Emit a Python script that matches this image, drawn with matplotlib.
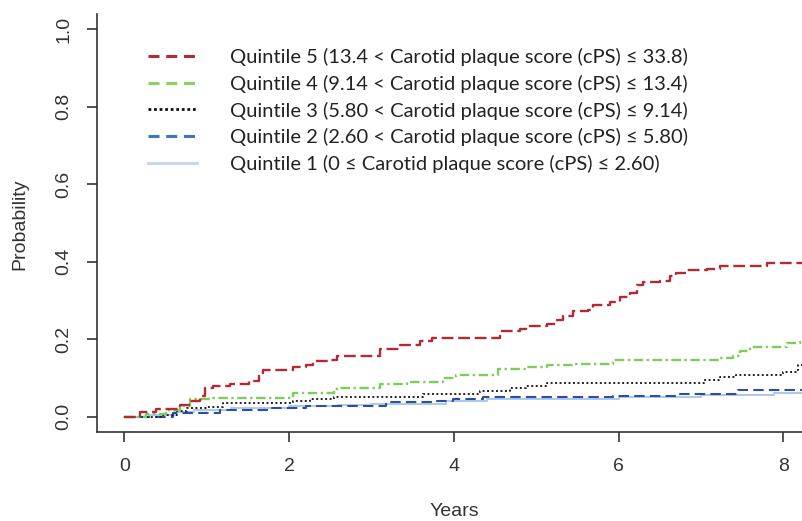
import matplotlib.pyplot as plt
from matplotlib.lines import Line2D

# step points (time in years, cumulative probability)
q5_t = [0, 0.19, 0.39, 0.68, 0.80, 0.92, 0.98, 1.08, 1.28, 1.52, 1.63, 1.69, 2.05, 2.21,
        2.29, 2.50, 2.58, 3.10, 3.35, 3.59, 3.73, 4.56, 4.80, 4.88, 5.13, 5.25, 5.33,
        5.45, 5.63, 5.69, 5.89, 6.02, 6.14, 6.22, 6.30, 6.50, 6.62, 6.70, 6.83, 7.07,
        7.23, 7.80, 8.30]
q5_p = [0, 0.011, 0.020, 0.031, 0.039, 0.054, 0.074, 0.078, 0.085, 0.091, 0.113, 0.119,
        0.128, 0.132, 0.143, 0.147, 0.156, 0.175, 0.186, 0.194, 0.203, 0.220, 0.225,
        0.235, 0.240, 0.250, 0.259, 0.272, 0.274, 0.289, 0.295, 0.309, 0.319, 0.341,
        0.347, 0.351, 0.364, 0.371, 0.378, 0.381, 0.390, 0.397, 0.397]

q4_t = [0, 0.27, 0.51, 0.68, 0.80, 1.08, 2.05, 2.54, 2.62, 3.10, 3.43, 3.87, 4.03, 4.54,
        4.88, 5.13, 5.45, 5.93, 7.23, 7.39, 7.47, 7.59, 8.04, 8.20, 8.30]
q4_p = [0, 0.007, 0.018, 0.028, 0.044, 0.048, 0.061, 0.070, 0.074, 0.083, 0.089, 0.100,
        0.108, 0.123, 0.128, 0.134, 0.136, 0.147, 0.151, 0.156, 0.169, 0.180, 0.190,
        0.197, 0.197]

q3_t = [0, 0.47, 0.64, 0.76, 1.00, 1.20, 2.05, 2.25, 2.54, 3.63, 4.32, 4.68, 4.88, 5.13,
        7.03, 7.23, 7.43, 8.00, 8.16, 8.18, 8.30]
q3_p = [0, 0.005, 0.014, 0.022, 0.025, 0.034, 0.040, 0.044, 0.051, 0.059, 0.067, 0.074,
        0.080, 0.087, 0.095, 0.101, 0.108, 0.114, 0.121, 0.132, 0.132]

q2_t = [0, 0.59, 1.16, 1.73, 2.21, 2.54, 3.18, 3.75, 3.99, 4.36, 5.93, 6.74, 7.45, 8.30]
q2_p = [0, 0.010, 0.018, 0.022, 0.027, 0.028, 0.037, 0.040, 0.044, 0.050, 0.054, 0.059,
        0.068, 0.068]

q1_t = [0, 0.30, 0.60, 0.85, 1.30, 2.00, 2.60, 3.00, 3.90, 4.40, 6.00, 7.00, 7.88, 8.30]
q1_p = [0, 0.005, 0.012, 0.018, 0.022, 0.026, 0.030, 0.032, 0.040, 0.045, 0.050, 0.055,
        0.061, 0.061]

labels = ['Quintile 5 (13.4 < Carotid plaque score (cPS) ≤ 33.8)',
          'Quintile 4 (9.14 < Carotid plaque score (cPS) ≤ 13.4)',
          'Quintile 3 (5.80 < Carotid plaque score (cPS) ≤ 9.14)',
          'Quintile 2 (2.60 < Carotid plaque score (cPS) ≤ 5.80)',
          'Quintile 1 (0 ≤ Carotid plaque score (cPS) ≤ 2.60)']

x_ticks = [0, 2, 4, 6, 8]
y_ticks = [0.0, 0.2, 0.4, 0.6, 0.8, 1.0]

RED = '#b32a34'
GREEN = '#7fcc5c'
BLUE = '#2f4ca8'
LBLUE = '#a9cbe8'
AXC = '#333333'

plt.rcParams['font.family'] = ['Liberation Sans', 'DejaVu Sans']

fig = plt.figure(figsize=(8.03, 5.21), dpi=100)
ax = fig.add_axes([97 / 803, 89 / 521, 1 - 97 / 803, 418 / 521])

ax.plot(q1_t, q1_p, drawstyle='steps-post', color=LBLUE, lw=1.4)
ax.plot(q2_t, q2_p, drawstyle='steps-post', color=BLUE, lw=1.5, dashes=(5, 2.5))
ax.plot(q3_t, q3_p, drawstyle='steps-post', color='#222222', lw=1.4, dashes=(1, 1.3))
ax.plot(q4_t, q4_p, drawstyle='steps-post', color=GREEN, lw=1.7,
        dashes=(4, 1.5, 1, 1.5))
ax.plot(q5_t, q5_p, drawstyle='steps-post', color=RED, lw=1.7, dashes=(5, 2))

ax.set_xlim(-0.33, 8.237)
ax.set_ylim(-0.04, 1.04)
ax.set_xticks(x_ticks)
ax.set_xticklabels([str(v) for v in x_ticks])
ax.set_yticks(y_ticks)
ax.set_yticklabels(['%.1f' % v for v in y_ticks], rotation=90, va='center')

for s in ['top', 'right']:
    ax.spines[s].set_visible(False)
for s in ['left', 'bottom']:
    ax.spines[s].set_color(AXC)
    ax.spines[s].set_linewidth(1.2)
ax.tick_params(colors=AXC, labelcolor='#333333', width=1.2, length=7.5,
               labelsize=14)
ax.tick_params(axis='y', pad=10)
ax.tick_params(axis='x', pad=11)

fig.text(454 / 803, 1 - 512 / 521, 'Years', fontsize=14, color='#333333',
         ha='center', va='center')
fig.text(20 / 803, 1 - 224 / 521, 'Probability', fontsize=14, color='#333333',
         ha='center', va='center', rotation=90)

handles = [Line2D([], [], color=RED, lw=2.2, dashes=(3.6, 2.2)),
           Line2D([], [], color='#8cd060', lw=2.2, dashes=(3.6, 2.2)),
           Line2D([], [], color='#111111', lw=2.0, dashes=(1, 1)),
           Line2D([], [], color='#3c74c8', lw=2.2, dashes=(3.6, 2.2)),
           Line2D([], [], color='#c2d9ef', lw=2.2)]
leg = fig.legend(handles, labels, loc='upper left',
                 bbox_to_anchor=(148 / 803, 1 - 48 / 521), frameon=False,
                 prop={'family': ['Lato', 'DejaVu Sans'], 'size': 14.5},
                 handlelength=2.45, handletextpad=1.64, labelspacing=0.43,
                 borderpad=0, borderaxespad=0)
for t in leg.get_texts():
    t.set_color('#222222')

fig.savefig('out.png', dpi=100)
